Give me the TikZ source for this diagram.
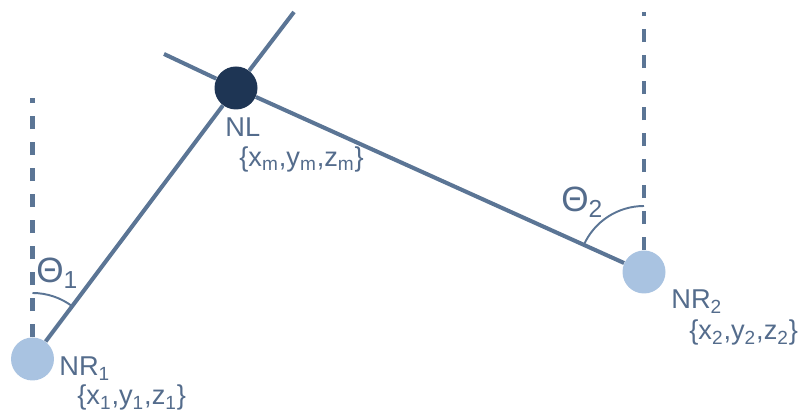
\documentclass[tikz,border=0pt]{standalone}
\usepackage{fontspec}
\setmainfont{Liberation Sans}
\usetikzlibrary{calc, backgrounds}
\definecolor{edgeblue}{RGB}{91,117,149}
\definecolor{navyfill}{RGB}{30,53,84}
\definecolor{palefill}{RGB}{169,195,225}
\definecolor{labelblue}{RGB}{84,108,140}
\begin{document}
\begin{tikzpicture}[
    nlnode/.style={circle, fill=navyfill, minimum size=0.86cm, inner sep=0pt},
    nrnode/.style={circle, fill=palefill, minimum size=0.86cm, inner sep=0pt},
    link/.style={draw=edgeblue, line width=2.3pt},
    plumb/.style={draw=edgeblue, line width=2.5pt, dash pattern=on 7.4pt off 7.4pt},
    anglearc/.style={draw=edgeblue, line width=1.1pt},
    lbl/.style={text=labelblue, inner sep=0pt, anchor=base west,
                font=\fontsize{15.5}{18}\selectfont},
    anglbl/.style={lbl, font=\fontsize{20}{24}\selectfont}
]
    \useasboundingbox (0,0) rectangle (16.04,8.24);
    % stations
    \node[nlnode] (nl) at (4.72,6.48) {};
    \node[nrnode] (nr1) at (0.65,1.06) {};
    \node[nrnode] (nr2) at (12.88,2.80) {};
    \coordinate (tip1) at (5.88,8.00);
    \coordinate (tip2) at (3.28,7.16);
    \coordinate (top1) at (0.65,6.28);
    \coordinate (top2) at (12.88,8.00);
    % lines of sight and verticals
    \begin{scope}[on background layer]
        \draw[link] (nr1) -- (nl);
        \draw[link] (nl) -- (tip1);
        \draw[link] (nr2) -- (nl);
        \draw[link] (nl) -- (tip2);
        \draw[plumb] (nr1) -- (top1);
        \draw[plumb] (nr2) -- (top2);
    \end{scope}
    \draw[anglearc] ($(nr1)+(90:1.32)$) arc[start angle=90, end angle=53, radius=1.32];
    \draw[anglearc] ($(nr2)+(90:1.32)$) arc[start angle=90, end angle=156, radius=1.32];
    % labels
    \node[anglbl] (th1) at (0.72,2.58) {Θ\textsubscript{1}};
    \node[anglbl] (th2) at (11.22,4.00) {Θ\textsubscript{2}};
    \node[lbl] (nllbl) at (4.50,5.50) {NL};
    \node[lbl] (nlcrd) at (4.78,4.90) {\{x\textsubscript{m},y\textsubscript{m},z\textsubscript{m}\}};
    \node[lbl] (nr1lbl) at (1.18,0.72) {NR\textsubscript{1}};
    \node[lbl] (nr1crd) at (1.54,0.14) {\{x\textsubscript{1},y\textsubscript{1},z\textsubscript{1}\}};
    \node[lbl] (nr2lbl) at (13.42,2.06) {NR\textsubscript{2}};
    \node[lbl] (nr2crd) at (13.78,1.44) {\{x\textsubscript{2},y\textsubscript{2},z\textsubscript{2}\}};
\end{tikzpicture}
\end{document}
